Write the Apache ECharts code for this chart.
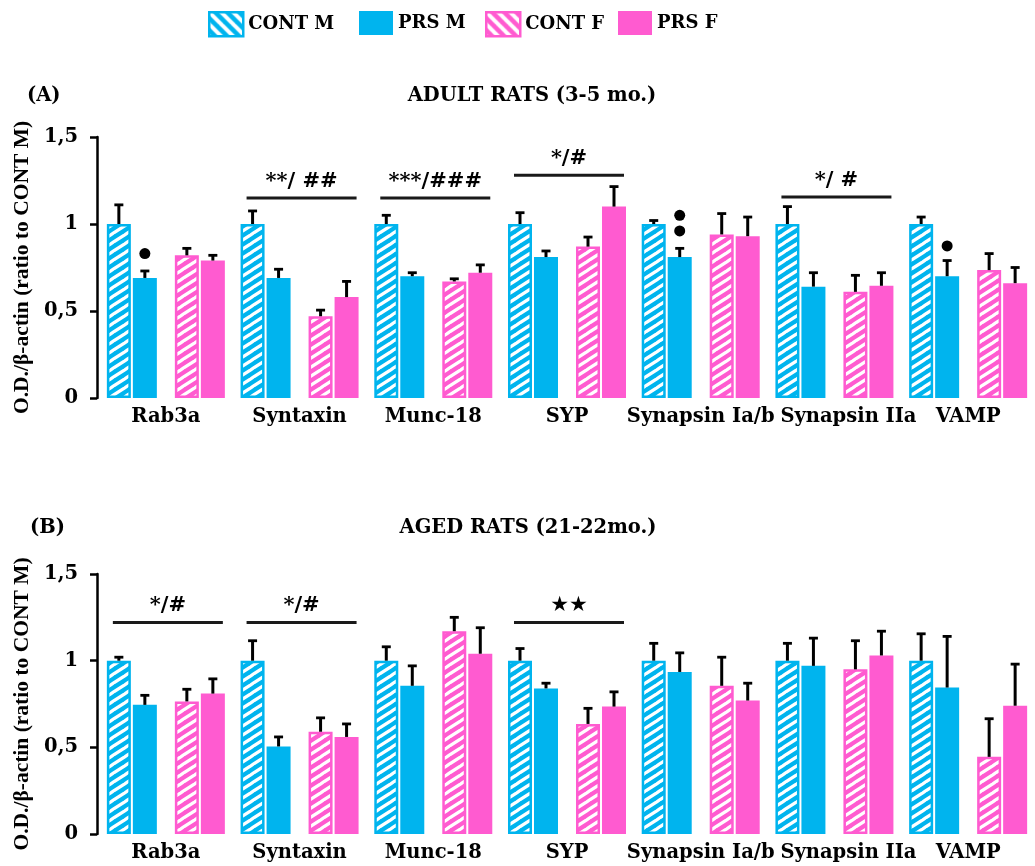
<!DOCTYPE html>
<html>
<head>
<meta charset="utf-8">
<script src="https://cdn.jsdelivr.net/npm/echarts@6/dist/echarts.min.js"></script>
<style>
  html, body { margin: 0; padding: 0; background: #ffffff; }
  #chart { width: 1035px; height: 866px; }
</style>
</head>
<body>
<div id="chart"></div>
<script>
// ---------------- DATA ----------------
const categories = ['Rab3a', 'Syntaxin', 'Munc-18', 'SYP', 'Synapsin Ia/b', 'Synapsin IIa', 'VAMP'];
const seriesNames = ['CONT M', 'PRS M', 'CONT F', 'PRS F'];
const yTickLabels = ['0', '0,5', '1', '1,5'];

// Panel A: adult rats (3-5 mo.)
const adultContM    = [1.00, 1.00, 1.00, 1.00, 1.00, 1.00, 1.00];
const adultContMErr = [0.11, 0.075, 0.05, 0.065, 0.02, 0.10, 0.04];
const adultPrsM     = [0.69, 0.69, 0.70, 0.81, 0.81, 0.64, 0.70];
const adultPrsMErr  = [0.04, 0.05, 0.02, 0.035, 0.05, 0.08, 0.09];
const adultContF    = [0.82, 0.47, 0.67, 0.87, 0.94, 0.61, 0.735];
const adultContFErr = [0.04, 0.035, 0.015, 0.055, 0.12, 0.095, 0.095];
const adultPrsF     = [0.79, 0.58, 0.72, 1.10, 0.93, 0.645, 0.66];
const adultPrsFErr  = [0.03, 0.09, 0.045, 0.115, 0.11, 0.075, 0.09];

// Panel B: aged rats (21-22 mo.)
const agedContM    = [1.00, 1.00, 1.00, 1.00, 1.00, 1.00, 1.00];
const agedContMErr = [0.02, 0.115, 0.08, 0.07, 0.10, 0.10, 0.155];
const agedPrsM     = [0.745, 0.505, 0.855, 0.84, 0.935, 0.97, 0.845];
const agedPrsMErr  = [0.055, 0.055, 0.115, 0.03, 0.11, 0.16, 0.295];
const agedContF    = [0.765, 0.59, 1.17, 0.635, 0.855, 0.95, 0.445];
const agedContFErr = [0.07, 0.08, 0.08, 0.09, 0.165, 0.165, 0.22];
const agedPrsF     = [0.81, 0.56, 1.04, 0.735, 0.77, 1.03, 0.74];
const agedPrsFErr  = [0.085, 0.075, 0.15, 0.085, 0.10, 0.14, 0.24];

// Significance annotations: [category index, y level, label]
const adultSigCat  = [1, 2, 3, 5];
const adultSigY    = [1.15, 1.15, 1.28, 1.155];
const adultSigText = ['**/ ##', '***/###', '*/#', '*/ #'];
const agedSigCat   = [0, 1, 3];
const agedSigY     = [1.22, 1.22, 1.22];
const agedSigText  = ['*/#', '*/#', '★★'];

// Dots above PRS M bars (panel A): [category index, y]
const adultDots = [[0, 0.83], [4, 1.05], [4, 0.96], [6, 0.874]];

// ---------------- STYLE ----------------
const BLUE = '#00B4EE';
const PINK = '#FF5BD0';
const SERIF = '"DejaVu Serif", "Liberation Serif", serif';
const BAR_W = 24;
const OFFSETS = [-47, -21, 21, 47]; // centre offsets of the 4 bars in a category (px)

function hatch(color, dir, w, h, lw) {
  const c = document.createElement('canvas');
  c.width = w; c.height = h;
  const g = c.getContext('2d');
  g.fillStyle = color; g.fillRect(0, 0, w, h);
  g.strokeStyle = '#ffffff'; g.lineWidth = lw;
  g.beginPath();
  const ex = w / h;
  for (let k = -1; k <= 1; k++) {
    if (dir === '/') { g.moveTo(k * w - ex, h + 1); g.lineTo(k * w + w + ex, -1); }
    else { g.moveTo(k * w - ex, -1); g.lineTo(k * w + w + ex, h + 1); }
  }
  g.stroke();
  return c;
}
const patBlue = { image: hatch(BLUE, '/', 14, 9, 3.2), repeat: 'repeat' };
const patPink = { image: hatch(PINK, '/', 14, 9, 3.2), repeat: 'repeat' };
const patBlueLeg = { image: hatch(BLUE, '\\', 12, 12, 4), repeat: 'repeat' };
const patPinkLeg = { image: hatch(PINK, '\\', 12, 12, 4), repeat: 'repeat' };

const styles = [
  { color: patBlue, borderColor: BLUE, borderWidth: 2.5 },
  { color: BLUE },
  { color: patPink, borderColor: PINK, borderWidth: 2.5 },
  { color: PINK }
];

function barSeries(idx, data, g) {
  return {
    type: 'bar', name: seriesNames[idx], xAxisIndex: g, yAxisIndex: g,
    data: data, barWidth: BAR_W, barGap: '8.333%',
    itemStyle: styles[idx], z: 2, silent: true,
    emphasis: { disabled: true }
  };
}
function spacer(g) {
  return {
    type: 'bar', name: 'spacer', xAxisIndex: g, yAxisIndex: g,
    data: categories.map(() => '-'), barWidth: 14.77, barGap: '8.333%', silent: true
  };
}
function errSeries(vals, errs, g) {
  const data = [];
  vals.forEach((arr, s) => arr.forEach((v, i) => data.push([i, v, errs[s][i], s])));
  return {
    type: 'custom', xAxisIndex: g, yAxisIndex: g, z: 5, silent: true,
    data: data,
    renderItem: function (params, api) {
      const i = api.value(0), v = api.value(1), e = api.value(2), s = api.value(3);
      const base = api.coord([i, v]);
      const top = api.coord([i, v + e]);
      const x = base[0] + OFFSETS[s];
      return {
        type: 'group',
        children: [
          { type: 'line', shape: { x1: x, y1: base[1], x2: x, y2: top[1] }, style: { stroke: '#000', lineWidth: 3 } },
          { type: 'line', shape: { x1: x - 4.5, y1: top[1], x2: x + 4.5, y2: top[1] }, style: { stroke: '#000', lineWidth: 2.8 } }
        ]
      };
    }
  };
}
function sigSeries(cats, ys, texts, g) {
  return {
    type: 'custom', xAxisIndex: g, yAxisIndex: g, z: 6, silent: true,
    data: cats.map((c, k) => [c, ys[k]]),
    renderItem: function (params, api) {
      const p = api.coord([api.value(0), api.value(1)]);
      const t = texts[params.dataIndex];
      const star = t.indexOf('★') >= 0;
      return {
        type: 'group',
        children: [
          { type: 'line', shape: { x1: p[0] - 53, y1: p[1], x2: p[0] + 57, y2: p[1] }, style: { stroke: '#1a1a1a', lineWidth: 3 } },
          { type: 'text', x: p[0] + 2, y: p[1] - 6,
            style: { text: t, fill: '#000', align: 'center', verticalAlign: 'bottom',
                     font: star ? '21px "DejaVu Sans"' : 'bold 21px "DejaVu Serif"' } }
        ]
      };
    }
  };
}

const axisText = { fontFamily: SERIF, fontWeight: 'bold', fontSize: 19.5, color: '#000' };

function xAxis(g) {
  return {
    type: 'category', gridIndex: g,
    data: categories.map(c => c === 'Synapsin IIa' ? { value: c, textStyle: { padding: [0, 0, 0, 28] } } : c),
    axisLine: { show: false }, axisTick: { show: false },
    axisLabel: Object.assign({ interval: 0, margin: 9 }, axisText)
  };
}
function yAxis(g) {
  return {
    type: 'value', gridIndex: g, min: 0, max: 1.5, interval: 0.5, offset: 2,
    splitLine: { show: false },
    axisLine: { show: true, lineStyle: { color: '#000', width: 2.5 } },
    axisTick: { show: true, length: 7, lineStyle: { color: '#000', width: 2.5 } },
    axisLabel: Object.assign({ margin: 19, formatter: v => yTickLabels[Math.round(v / 0.5)] }, axisText),
    name: 'O.D./β-actin (ratio to CONT M)', nameLocation: 'middle', nameGap: 56,
    nameTextStyle: { fontFamily: '"Liberation Serif", serif', fontWeight: 'bold', fontSize: 21.5, color: '#000' }
  };
}

const titleStyle = { fontFamily: SERIF, fontWeight: 'bold', fontSize: 19.5, color: '#000' };
const legendLeft = [208, 359, 485, 618];
const legendIcons = [
  { color: patBlueLeg, borderColor: BLUE, borderWidth: 2.5 },
  { color: BLUE },
  { color: patPinkLeg, borderColor: PINK, borderWidth: 2.5 },
  { color: PINK }
];

const option = {
  animation: false,
  backgroundColor: '#ffffff',
  title: [
    { text: '(A)', left: 27, top: 86, padding: 0, textStyle: titleStyle },
    { text: 'ADULT RATS (3-5 mo.)', left: 532, top: 86, padding: 0, textAlign: 'center', textStyle: titleStyle },
    { text: '(B)', left: 30, top: 518, padding: 0, textStyle: titleStyle },
    { text: 'AGED RATS (21-22mo.)', left: 528, top: 518, padding: 0, textAlign: 'center', textStyle: titleStyle }
  ],
  legend: seriesNames.map((n, i) => ({
    data: [{ name: n, icon: 'rect', itemStyle: legendIcons[i] }],
    left: legendLeft[i], top: 11, padding: 0, itemWidth: 34, itemHeight: 24,
    selectedMode: false,
    textStyle: { fontFamily: SERIF, fontWeight: 'bold', fontSize: 18, color: '#000' }
  })),
  grid: [
    { left: 99, right: -2, top: 137, height: 261 },
    { left: 99, right: -2, top: 574, height: 260 }
  ],
  xAxis: [xAxis(0), xAxis(1)],
  yAxis: [yAxis(0), yAxis(1)],
  series: [
    barSeries(0, adultContM, 0), barSeries(1, adultPrsM, 0), spacer(0), barSeries(2, adultContF, 0), barSeries(3, adultPrsF, 0),
    errSeries([adultContM, adultPrsM, adultContF, adultPrsF], [adultContMErr, adultPrsMErr, adultContFErr, adultPrsFErr], 0),
    sigSeries(adultSigCat, adultSigY, adultSigText, 0),
    { type: 'scatter', xAxisIndex: 0, yAxisIndex: 0, data: adultDots, symbol: 'circle', symbolSize: 11,
      symbolOffset: [-21, 0], itemStyle: { color: '#000', opacity: 1 }, z: 7, silent: true },
    barSeries(0, agedContM, 1), barSeries(1, agedPrsM, 1), spacer(1), barSeries(2, agedContF, 1), barSeries(3, agedPrsF, 1),
    errSeries([agedContM, agedPrsM, agedContF, agedPrsF], [agedContMErr, agedPrsMErr, agedContFErr, agedPrsFErr], 1),
    sigSeries(agedSigCat, agedSigY, agedSigText, 1)
  ]
};

const chart = echarts.init(document.getElementById('chart'), null, { renderer: 'canvas' });
chart.setOption(option);
</script>
</body>
</html>
